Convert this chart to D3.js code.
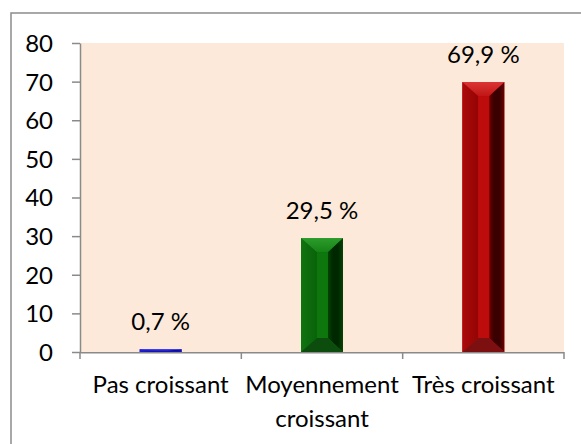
<!DOCTYPE html>
<html><head><meta charset="utf-8">
<script src="https://cdn.jsdelivr.net/npm/d3@7"></script>
<style>html,body{margin:0;padding:0;background:#fff;}svg{display:block;}</style>
</head><body>
<svg id="c" width="581" height="444"></svg>
<script>
const categories = [["Pas croissant"], ["Moyennement", "croissant"], ["Très croissant"]];
const values = [0.7, 29.5, 69.9];
const yTicks = [0, 10, 20, 30, 40, 50, 60, 70, 80];
const palettes = [
  {top:["#3a3af0","#2424e0"], left:["#1e1ed8","#1a1ad0"], face:"#1c1cd8", right:["#1414b8","#0c0ca0"], bottom:"#1414b0"},
  {top:["#2c9c2c","#168216"], left:["#0f740f","#0a620a"], face:"#0d760d", right:["#064206","#002800"], bottom:"#0c4c0c"},
  {top:["#dc3434","#c01616"], left:["#ac0a0a","#940404"], face:"#bc0c0c", right:["#6c0000","#380000"], bottom:"#7c1010"}
];
const FONT = "Lato, 'Open Sans', sans-serif";
const FS = 24;

(function () {
const svg = d3.select("#c");
const W = 581, H = 444;
const pL = 80, pR = 564, pT = 43, pB = 352;

svg.append("rect").attr("x", 11).attr("y", 13).attr("width", W + 20).attr("height", H + 20)
  .attr("fill", "#fff").attr("stroke", "#8c8c8c").attr("stroke-width", 1.5);

svg.append("rect").attr("x", pL).attr("y", pT).attr("width", pR - pL).attr("height", pB - pT)
  .attr("fill", "#fde9d9");

const y = d3.scaleLinear().domain([0, 80]).range([pB, pT]);
const keys = categories.map(c => c.join(" "));
const xCat = d3.scaleBand().domain(keys).range([pL, pR]).padding(0);
const xBar = d3.scaleBand().domain(keys).range([pL, pR]).paddingInner(0.74).paddingOuter(0.37);

const defs = svg.append("defs");
palettes.forEach((p, i) => {
  const mk = (id, stops, horiz) => {
    const g = defs.append("linearGradient").attr("id", id)
      .attr("x1", 0).attr("y1", 0).attr("x2", horiz ? 1 : 0).attr("y2", horiz ? 0 : 1);
    stops.forEach((c, k) => g.append("stop").attr("offset", k / (stops.length - 1)).attr("stop-color", c));
  };
  mk("top" + i, p.top, false);
  mk("left" + i, p.left, true);
  mk("right" + i, [p.right[0], p.right[1], p.right[1], p.right[0]], true);
});

values.forEach((v, i) => {
  const p = palettes[i];
  const x0 = xBar(keys[i]), x1 = x0 + xBar.bandwidth();
  const y0 = y(v), y1 = y(0);
  const bw = x1 - x0;
  const t = Math.min(14, (y1 - y0) / 2);
  const xi0 = x0 + bw * 0.38, xi1 = x0 + bw * 0.64;
  const yi0 = y0 + t, yi1 = y1 - t;
  const g = svg.append("g");
  g.append("rect").attr("x", x0).attr("y", y0).attr("width", bw).attr("height", y1 - y0).attr("fill", p.face);
  const poly = (pts, fill) => g.append("polygon").attr("points", pts.map(d => d.join(",")).join(" ")).attr("fill", fill);
  poly([[x0,y0],[xi0,yi0],[xi0,yi1],[x0,y1]], `url(#left${i})`);
  poly([[x1,y0],[xi1,yi0],[xi1,yi1],[x1,y1]], `url(#right${i})`);
  poly([[x0,y1],[x1,y1],[xi1,yi1],[xi0,yi1]], p.bottom);
  g.append("rect").attr("x", xi0).attr("y", yi0).attr("width", xi1 - xi0).attr("height", Math.max(0, yi1 - yi0)).attr("fill", p.face);
  poly([[x0,y0],[x1,y0],[xi1,yi0],[xi0,yi0]], `url(#top${i})`);
  svg.append("text").attr("x", (x0 + x1) / 2).attr("y", y0 - 19).attr("text-anchor", "middle")
    .attr("font-family", FONT).attr("font-size", FS).attr("fill", "#000")
    .text(d3.format(".1f")(v).replace(".", ",") + " %");
});

const yAxis = d3.axisLeft(y).tickValues(yTicks).tickSize(8).tickPadding(19).tickSizeOuter(0);
const gy = svg.append("g").attr("transform", `translate(${pL},0)`).call(yAxis);
gy.select(".domain").attr("stroke", "#8a8a8a").attr("stroke-width", 1.5);
gy.selectAll(".tick line").attr("stroke", "#8a8a8a").attr("stroke-width", 1.5);
gy.selectAll(".tick text").attr("font-family", FONT).attr("font-size", FS).attr("fill", "#000").attr("dy", "0.35em");

const gx = svg.append("g");
gx.append("line").attr("x1", pL).attr("x2", pR).attr("y1", pB + 0.75).attr("y2", pB + 0.75)
  .attr("stroke", "#8a8a8a").attr("stroke-width", 1.5);
const bounds = keys.map(k => xCat(k)).concat([pR]);
gx.selectAll("line.tk").data(bounds).join("line").attr("class", "tk")
  .attr("x1", d => d).attr("x2", d => d).attr("y1", pB).attr("y2", pB + 7)
  .attr("stroke", "#8a8a8a").attr("stroke-width", 1.5);

categories.forEach((lines, i) => {
  const cx = xCat(keys[i]) + xCat.bandwidth() / 2;
  const t = svg.append("text").attr("text-anchor", "middle").attr("font-family", FONT).attr("font-size", FS).attr("fill", "#000");
  lines.forEach((ln, k) => t.append("tspan").attr("x", cx).attr("y", 393 + k * 34).text(ln));
});
})();
</script>
</body></html>
